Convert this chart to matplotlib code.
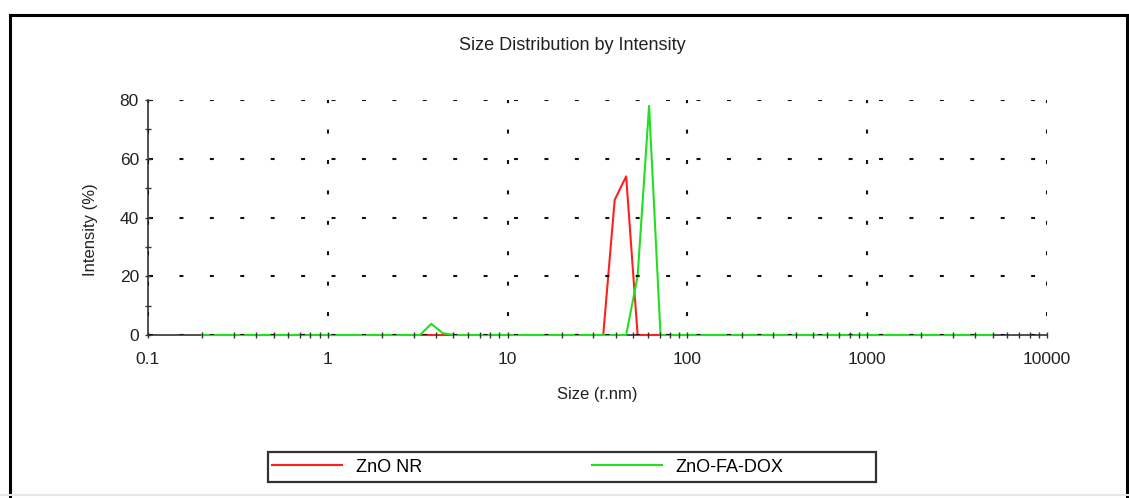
import numpy as np
import matplotlib.pyplot as plt
from matplotlib.lines import Line2D
from matplotlib.patches import Rectangle
from matplotlib.ticker import LogLocator, FixedLocator, NullFormatter

plt.rcParams['font.family'] = ['Liberation Sans', 'DejaVu Sans']

# size bins (radius, nm) where the curves change
size_nr = [0.2, 34.03, 39.41, 45.64, 52.85, 5000]
int_nr = [0, 0, 46, 54, 0, 0]

size_dox = [0.2, 3.252, 3.766, 4.362, 5.051, 45.64, 52.85, 61.21, 70.89, 5000]
int_dox = [0, 0, 3.8, 0.6, 0, 0, 20, 78, 0, 0]

x_ticks = [0.1, 1, 10, 100, 1000, 10000]
x_tick_labels = ['0.1', '1', '10', '100', '1000', '10000']
y_ticks = [0, 20, 40, 60, 80]

W, H = 1129, 498
fig = plt.figure(figsize=(W / 100, H / 100), dpi=100)
ax = fig.add_axes([148 / W, 1 - 335 / H, (1047 - 148) / W, (335 - 100) / H])

ax.plot(size_nr, int_nr, color='#ff2020', lw=1.5, zorder=2.7, clip_on=False)
ax.plot(size_dox, int_dox, color='#20e020', lw=1.5, zorder=2.8, clip_on=False)

ax.set_xscale('log')
ax.set_xlim(0.1, 10000)
ax.set_ylim(0, 80)
ax.set_xticks(x_ticks)
ax.set_xticklabels(x_tick_labels)
ax.xaxis.set_minor_locator(LogLocator(base=10, subs=np.arange(2, 10)))
ax.xaxis.set_minor_formatter(NullFormatter())
ax.set_yticks(y_ticks)
ax.yaxis.set_minor_locator(FixedLocator([10, 30, 50, 70]))

for s in ['top', 'right']:
    ax.spines[s].set_visible(False)
for s in ['left', 'bottom']:
    ax.spines[s].set_color('#222222')
    ax.spines[s].set_linewidth(1.1)

ax.tick_params(which='major', direction='inout', length=5, width=1.0,
               color='#333333', labelsize=12.5, labelcolor='#222222')
ax.tick_params(which='minor', direction='inout', length=4, width=1.0,
               color='#333333')
ax.tick_params(axis='x', which='major', pad=10)
ax.tick_params(axis='y', which='major', pad=4)

# dotted grid made of short dashes, ~30 px apart
glw = 1.5
ax.xaxis.grid(True, which='major', color='#111111', lw=glw,
              linestyle=(5.5, (1.9, 12.7)))
ax.yaxis.grid(True, which='major', color='#111111', lw=glw,
              linestyle=(14.1, (1.9, 12.7)))
ax.set_axisbelow(False)
ax.xaxis.set_zorder(3)
ax.yaxis.set_zorder(3)

ax.set_xlabel('Size (r.nm)', fontsize=12, color='#222222')
ax.xaxis.set_label_coords(0.5, -0.22)
ax.set_ylabel('Intensity (%)', fontsize=12, color='#222222')
ax.yaxis.set_label_coords(-0.056, 0.45)

fig.text(572 / W, 1 - 46 / H, 'Size Distribution by Intensity', fontsize=13,
         ha='center', va='center', color='#222222')

# legend box
fig.add_artist(Rectangle((268 / W, 1 - 482 / H), (876 - 268) / W, 30 / H,
                         transform=fig.transFigure, fill=False,
                         edgecolor='#333333', lw=1.6))
handles = [Line2D([], [], color='#ff2020', lw=1.5),
           Line2D([], [], color='#20e020', lw=1.5)]
fig.legend(handles, ['ZnO NR', 'ZnO-FA-DOX'], ncol=2, frameon=False,
           loc='center left', bbox_to_anchor=(268 / W, 1 - 467 / H),
           fontsize=13, handlelength=3.9, handletextpad=0.75,
           columnspacing=9.4, borderpad=0.0, borderaxespad=0.2)

# outer frame
fl = 2.2
fig.add_artist(Line2D([10 / W, 10 / W], [0, 1 - 15 / H], color='black', lw=fl))
fig.add_artist(Line2D([10 / W, 1127 / W], [1 - 15 / H, 1 - 15 / H], color='black', lw=fl))
fig.add_artist(Line2D([1127 / W, 1127 / W], [0, 1 - 15 / H], color='black', lw=fl))
fig.add_artist(Line2D([0, 1], [1 - 495 / H, 1 - 495 / H], color='#e6e6e6', lw=1.5))

fig.savefig('out.png', dpi=100)
